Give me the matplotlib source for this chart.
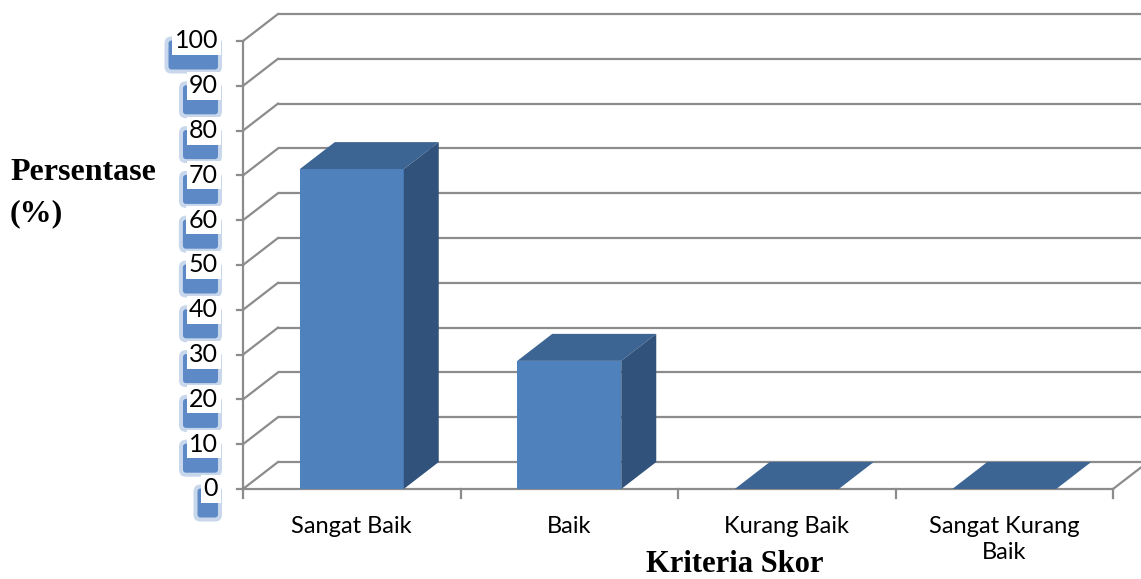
import matplotlib
matplotlib.use("Agg")
import matplotlib.pyplot as plt
from matplotlib.patches import Polygon
from matplotlib.transforms import offset_copy

# data
kategori = ["Sangat Baik", "Baik", "Kurang Baik", "Sangat Kurang\nBaik"]
persen = [71.4, 28.6, 0, 0]
yticks = [0, 10, 20, 30, 40, 50, 60, 70, 80, 90, 100]

# warna
c_depan = "#4f81bd"
c_atas = "#3d6593"
c_samping = "#31527b"
c_grid = "#8c8c8c"
c_bayang = "#4a7cc0"

W, H = 1141, 579
fig = plt.figure(figsize=(W / 100, H / 100), dpi=100, facecolor="white")
ax = fig.add_axes([0, 0, 1, 1])

# skala: x 217.5 px per kategori, y 4.48 px per persen
px_x, px_y = 217.5, 4.48
ax.set_xlim(-243 / px_x, (W - 243) / px_x)
ax.set_ylim(-(H - 489) / px_y, 489 / px_y)
ax.axis("off")
xmax = ax.get_xlim()[1]

DX, DY = 35 / px_x, 27 / px_y   # kedalaman 3D
lebar = 52 / px_x                # setengah lebar batang
n = len(kategori)

# grid dinding belakang + dinding kiri
for v in yticks:
    ax.plot([DX, xmax], [v + DY, v + DY], color=c_grid, lw=1.6, zorder=1, solid_capstyle="butt")
    ax.plot([0, DX], [v, v + DY], color=c_grid, lw=1.6, zorder=1)
    ax.plot([-6 / px_x, 0], [v, v], color=c_grid, lw=1.6, zorder=1)

# sumbu depan
ax.plot([0, 0], [0, 100], color=c_grid, lw=1.6, zorder=1)
ax.plot([0, n], [0, 0], color=c_grid, lw=1.6, zorder=1)
ax.plot([n, n + DX], [0, DY], color=c_grid, lw=1.6, zorder=1)
for i in range(n + 1):
    ax.plot([i, i], [0, -9 / px_y], color=c_grid, lw=1.6, zorder=1)

# batang 3D
for i, val in enumerate(persen):
    cx = i + 0.5
    x0, x1 = cx - lebar, cx + lebar
    atas = Polygon([(x0, val), (x1, val), (x1 + DX, val + DY), (x0 + DX, val + DY)],
                   closed=True, fc=c_atas, ec="none", zorder=3)
    ax.add_patch(atas)
    if val > 0:
        depan = Polygon([(x0, 0), (x1, 0), (x1, val), (x0, val)],
                        closed=True, fc=c_depan, ec="none", zorder=3)
        samping = Polygon([(x1, 0), (x1 + DX, DY), (x1 + DX, val + DY), (x1, val)],
                          closed=True, fc=c_samping, ec="none", zorder=3)
        ax.add_patch(depan)
        ax.add_patch(samping)

# label sumbu y dengan bayangan biru (efek dari gambar asli)
for v in yticks:
    xt = -25 / px_x
    tr = offset_copy(ax.transData, fig=fig, x=-3, y=-14, units="dots")
    for pad, a in [(0.28, 0.3), (0.12, 0.85)]:
        ax.text(xt, v, str(v), transform=tr, ha="right", va="center", fontsize=18,
                family="Lato", color=c_bayang, alpha=0,
                bbox=dict(boxstyle=f"round,pad={pad}", fc=c_bayang, ec="none", alpha=a),
                zorder=4)
    ax.text(xt, v, str(v), ha="right", va="center", fontsize=18, family="Lato",
            color="black", zorder=5,
            bbox=dict(boxstyle="square,pad=0.1", fc="white", ec="none"))

# label kategori
for i, k in enumerate(kategori):
    ax.text(i + 0.5, -27 / px_y, k, ha="center", va="top", fontsize=17,
            family="Lato", color="black", linespacing=1.3, zorder=5)

fig.text(735 / W, 1 - 564 / H, "Kriteria Skor", ha="center", va="center",
         fontsize=22, fontweight="bold", family="Liberation Serif", zorder=6,
         bbox=dict(boxstyle="square,pad=0.2", fc="white", ec="none"))
fig.text(10 / W, 1 - 193 / H, "Persentase\n(%)", ha="left", va="center",
         fontsize=23, fontweight="bold", family="Liberation Serif", linespacing=1.55)

fig.savefig("out.png", dpi=100, facecolor="white")
